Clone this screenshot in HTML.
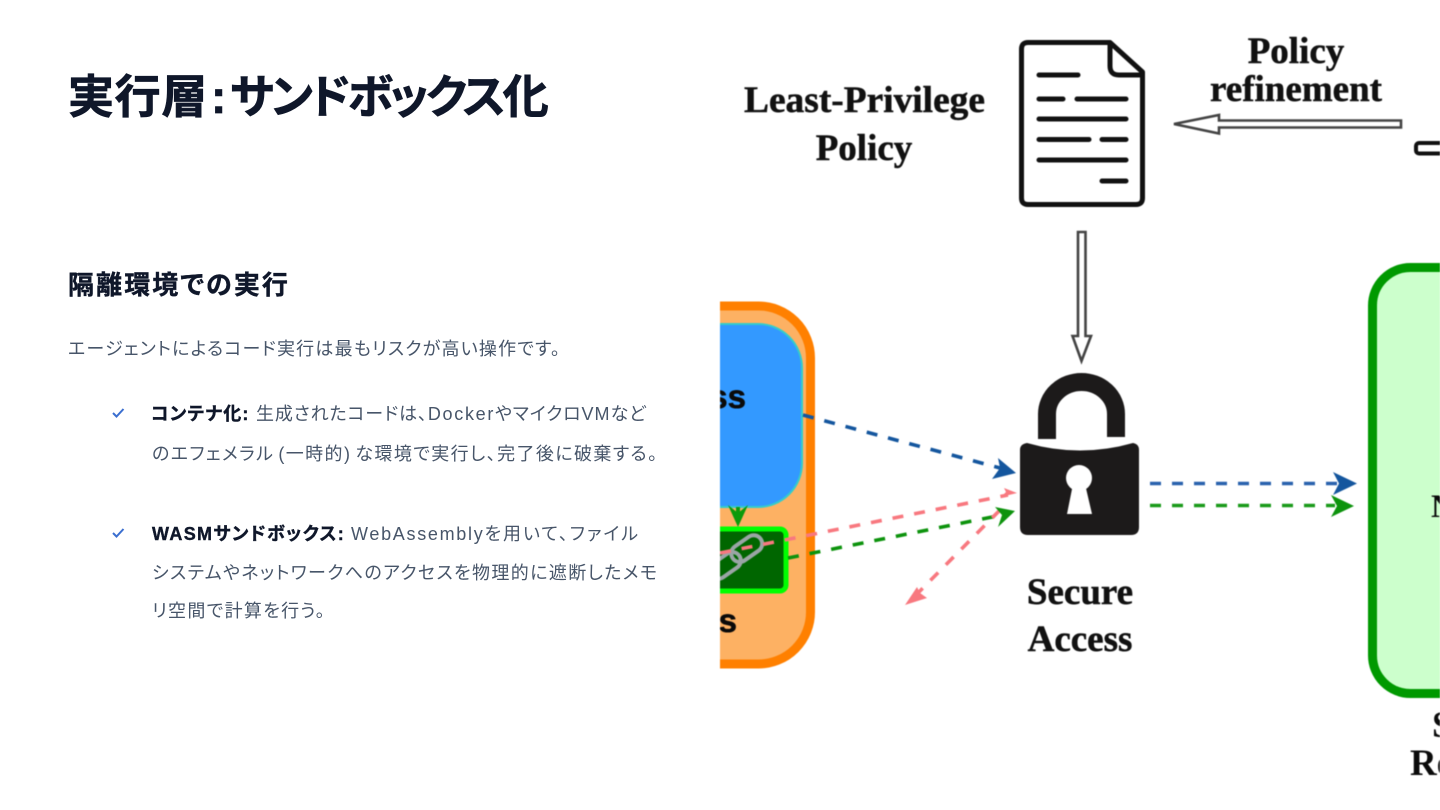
<!DOCTYPE html>
<html lang="ja"><head><meta charset="utf-8">
<style>
html,body{margin:0;padding:0;background:#fff}
body{width:1440px;height:810px;overflow:hidden;position:relative;font-family:"Liberation Sans","Noto Sans CJK JP",sans-serif}
.t{position:absolute;white-space:nowrap;font-feature-settings:"palt";color:#475569;font-size:18px;line-height:30px;height:30px;letter-spacing:1.2px}
.b{font-weight:700;color:#0f172a;-webkit-text-stroke:.4px #0f172a}
.l{letter-spacing:1.7px}
svg{position:absolute;left:0;top:0}
</style></head><body>
<div class="t b" style="left:68px;top:67px;font-size:46px;line-height:60px;height:60px;letter-spacing:.6px;-webkit-text-stroke:.7px #0f172a">実行層</div>
<div class="t b" style="left:211px;top:67px;font-size:46px;line-height:60px;height:60px;letter-spacing:0;-webkit-text-stroke:.7px #0f172a">:</div>
<div class="t b" style="left:230px;top:67px;font-size:46px;line-height:60px;height:60px;letter-spacing:-3px;-webkit-text-stroke:.7px #0f172a">サンドボックス化</div>
<div class="t b" style="left:68px;top:270px;font-size:26px;letter-spacing:2.1px">隔離環境での実行</div>
<div class="t" style="left:68px;top:334px">エージェントによるコード実行は最もリスクが高い操作です。</div>
<div class="t b" style="left:151px;top:399px">コンテナ化:</div>
<div class="t" style="left:256px;top:399px;letter-spacing:.85px">生成されたコードは、<span class="l">Docker</span>やマイクロ<span class="l" style="letter-spacing:1px">VM</span>など</div>
<div class="t" style="left:152px;top:439px;letter-spacing:1.4px">のエフェメラル<span style="margin:0 4px">(一時的)</span>な環境で実行し、完了後に破棄する。</div>
<div class="t b" style="left:152px;top:519px;letter-spacing:1.35px">WASMサンドボックス:</div>
<div class="t" style="left:351px;top:519px;letter-spacing:1.95px"><span class="l">WebAssembly</span>を用いて、ファイル</div>
<div class="t" style="left:152px;top:558px;letter-spacing:1.38px">システムやネットワークへのアクセスを物理的に遮断したメモ</div>
<div class="t" style="left:152px;top:596px;letter-spacing:1.3px">リ空間で計算を行う。</div>
<svg width="1440" height="810" viewBox="0 0 1440 810">
<path d="M113 413l3.5 3.5 7-7.5M113 533l3.5 3.5 7-7.5" fill="none" stroke="#3b6fd0" stroke-width="2"/>
</svg>
<svg width="1440" height="810" viewBox="0 0 1440 810" style="filter:blur(.6px)">
<defs><clipPath id="c"><rect x="720" y="0" width="720" height="810"/></clipPath></defs>
<g clip-path="url(#c)">
<!-- left container -->
<rect x="560" y="306" width="250.500" height="358" rx="52" fill="#fdb163" stroke="#ff8000" stroke-width="9"/>
<rect x="560" y="324" width="242" height="183" rx="44" fill="#3399ff" stroke="#33cccc" stroke-width="2"/>
<path d="M738 507v10" stroke="#0b9a0b" stroke-width="4"/>
<path d="M728 505l10 8 10-8-10 22z" fill="#0b9a0b"/>
<rect x="680" y="529" width="106" height="62" rx="6" fill="#006600" stroke="#00ff00" stroke-width="5"/>
<g fill="none" stroke="#9aa5a5" stroke-width="4">
<rect x="708" y="557" width="34" height="17" rx="8.500" transform="rotate(-35 725 565)"/>
<rect x="730" y="540" width="34" height="17" rx="8.500" transform="rotate(-35 747 549)"/>
</g>
<text x="746" y="408" text-anchor="end" font-family="Liberation Sans" font-weight="700" font-size="33" fill="#0a0a0a" stroke="#0a0a0a" stroke-width=".6">ss</text>
<text x="737" y="632" text-anchor="end" font-family="Liberation Sans" font-weight="700" font-size="33" fill="#0a0a0a" stroke="#0a0a0a" stroke-width=".6">s</text>
<!-- dashed arrows -->
<g fill="none" stroke-width="3.6" stroke-dasharray="11 11">
<path d="M803 415L1000 468" stroke="#14569e"/>
<path d="M720 553L1008 495" stroke="#f8787f"/>
<path d="M788 558L1002 515" stroke="#0d930d"/>
<path d="M1000 510L917 594" stroke="#f8787f"/>
<path d="M1150 483.5H1337" stroke="#2a62ad"/>
<path d="M1150 505.5H1335" stroke="#1a9a1a"/>
</g>
<path d="M1016 473L992 479 1000 468 998 458z" fill="#14569e"/>
<path d="M1017 493L1001 497 1006 492 1004 488z" fill="#f8787f"/>
<path d="M1015 511L998 527 1002 515 995 507z" fill="#0d930d"/>
<path d="M905 605L917 587 920 593 927 598z" fill="#f8787f"/>
<path d="M1357 483.5L1333 472 1339 483.5 1333 495z" fill="#14569e"/>
<path d="M1354 506L1331 495 1337 506 1331 517z" fill="#0d930d"/>
<!-- right green box -->
<rect x="1372.500" y="267.500" width="200" height="426" rx="38" fill="#ccffcc" stroke="#009900" stroke-width="9"/>
<text x="1431" y="517" font-family="Liberation Serif" font-weight="700" font-size="33" fill="#0a0a0a">N</text>
<text x="1432" y="737" font-family="Liberation Serif" font-weight="700" font-size="37" fill="#0a0a0a">S</text>
<text x="1410" y="775" font-family="Liberation Serif" font-weight="700" font-size="37" fill="#0a0a0a">Re</text>
<!-- document -->
<path d="M1110 42.500H1028Q1021.500 42.500 1021.500 49V198Q1021.500 204.500 1028 204.500H1136Q1142.500 204.500 1142.500 198V72z" fill="#fff" stroke="#111" stroke-width="5" stroke-linejoin="round"/>
<path d="M1110 42.500V66Q1110 75 1119 75H1142.500" fill="none" stroke="#111" stroke-width="5"/>
<g stroke="#111" stroke-width="5" stroke-linecap="round">
<path d="M1039 75H1078M1039 99H1063M1077 99H1126M1039 119H1126M1039 139.500H1089M1102 139.500H1126M1039 160H1126M1102 181H1126"/>
</g>
<!-- hollow arrows -->
<path d="M1401 120.500H1219V115L1174 124 1219 133.500V127.500H1401z" fill="#fff" stroke="#444" stroke-width="2.600"/>
<path d="M1078 232H1085.500V336H1091L1081.500 361 1072.500 336H1078z" fill="#fff" stroke="#444" stroke-width="2.600"/>
<rect x="1416" y="143" width="60" height="10.500" rx="3" fill="#fff" stroke="#111" stroke-width="4"/>
<!-- lock -->
<path d="M1047 439V414A34.500 32 0 0 1 1116 414V437" fill="none" stroke="#1c1a1a" stroke-width="18"/>
<path d="M1027 443Q1080 458 1133 443Q1139 444 1139 450V527Q1139 535 1131 535H1028Q1020 535 1020 527V450Q1020 444 1027 443z" fill="#1c1a1a"/>
<circle cx="1079" cy="478" r="13" fill="#fff"/>
<path d="M1073 484H1085L1092 514H1067z" fill="#fff"/>
<!-- labels -->
<g font-family="Liberation Serif" font-weight="700" font-size="37" fill="#111" stroke="#111" stroke-width=".5" text-anchor="middle">
<text x="864.500" y="112" textLength="241" lengthAdjust="spacingAndGlyphs">Least-Privilege</text>
<text x="864" y="160">Policy</text>
<text x="1296" y="63">Policy</text>
<text x="1296" y="101" textLength="172" lengthAdjust="spacingAndGlyphs">refinement</text>
<text x="1080" y="604">Secure</text>
<text x="1080" y="651">Access</text>
</g>
</g></svg>
</body></html>
